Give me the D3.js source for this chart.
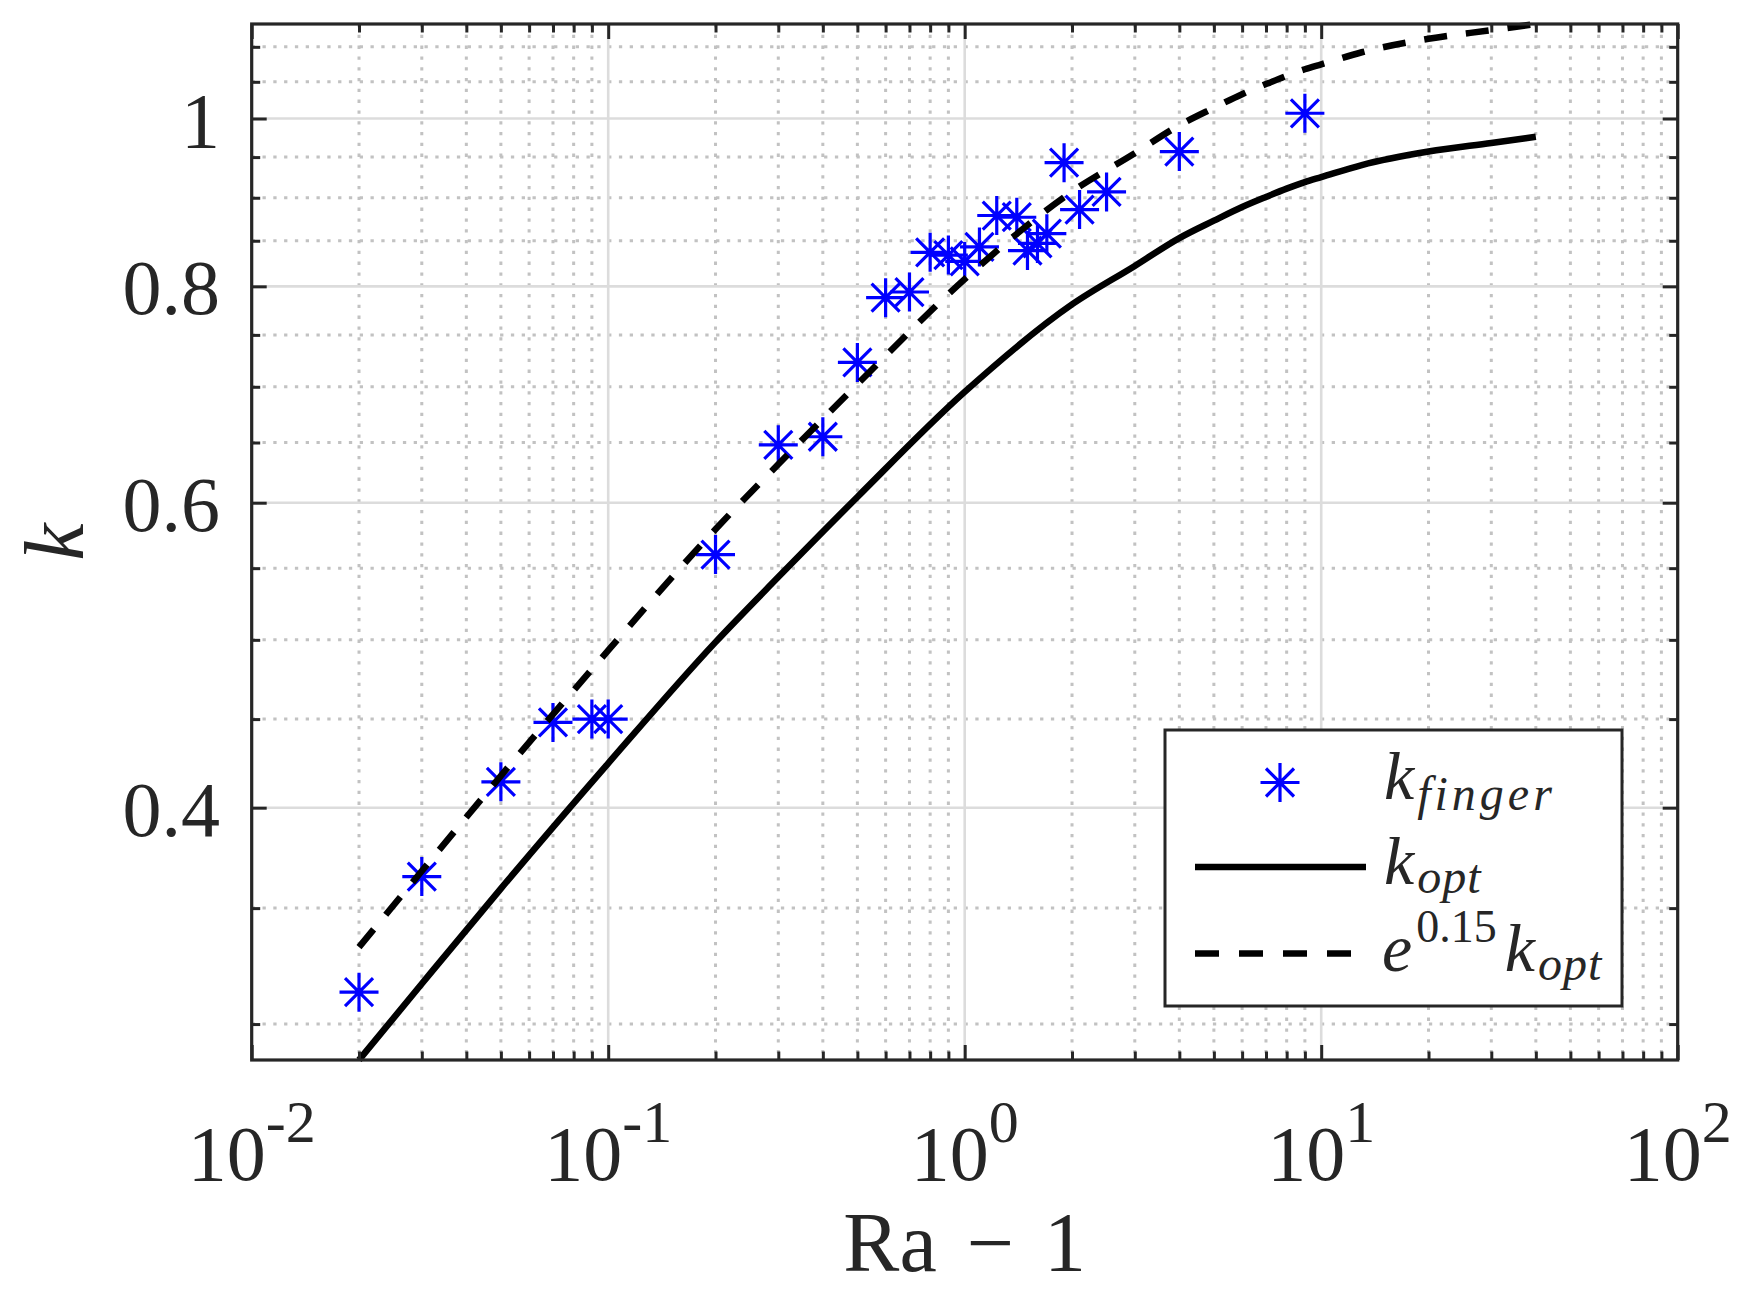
<!DOCTYPE html>
<html>
<head>
<meta charset="utf-8">
<script src="https://cdn.jsdelivr.net/npm/d3@7"></script>
<style>
  body { margin: 0; background: #fff; }
  svg text { font-family: "Liberation Serif", "Tinos", "Times New Roman", "DejaVu Serif", serif; fill: #262626; }
</style>
</head>
<body>
<div id="chart"></div>
<script>
// measured fingers (blue asterisks)
const fingerRa = [0.02, 0.03, 0.05, 0.07, 0.09, 0.1, 0.2, 0.3, 0.4, 0.5, 0.6, 0.7, 0.8, 0.9, 1.0, 1.1,
                  1.23, 1.4, 1.5, 1.6, 1.7, 1.9, 2.1, 2.5, 4, 9];
const fingerK = [0.313, 0.365, 0.414, 0.448, 0.450, 0.450, 0.560, 0.648, 0.655, 0.723, 0.788, 0.794, 0.837, 0.834, 0.827, 0.843,
                 0.879, 0.877, 0.839, 0.847, 0.858, 0.943, 0.886, 0.907, 0.957, 1.007];

// k_opt curve and e^0.15 k_opt curve
const optRa = [0.02, 0.03, 0.05, 0.1, 0.2, 0.3, 0.5, 1, 2, 3, 4, 5, 6, 7, 8, 9, 10, 13, 20, 30, 40];
const optK = [0.286, 0.3165, 0.3592, 0.4243, 0.4985, 0.5435, 0.6046, 0.6952, 0.781, 0.822, 0.853, 0.873, 0.889, 0.901, 0.911, 0.919, 0.925, 0.940, 0.957, 0.968, 0.976];
const scaledK = [0.3323, 0.3677, 0.4173, 0.4930, 0.5792, 0.6315, 0.7024, 0.8077, 0.9074, 0.9550, 0.9910, 1.0143, 1.0329, 1.0468, 1.0584, 1.0677, 1.0747, 1.0921, 1.1119, 1.1247, 1.1339];

// ticks
const xTickVals = [0.01, 0.1, 1, 10, 100];
const xTickExp = ["-2", "-1", "0", "1", "2"];
const yTickVals = [0.4, 0.6, 0.8, 1];
const yTickLabels = ["0.4", "0.6", "0.8", "1"];
const yMinorVals = [0.3, 0.35, 0.45, 0.5, 0.55, 0.65, 0.7, 0.75, 0.85, 0.9, 0.95, 1.05, 1.1];

const width = 1757, height = 1301;
const margin = { top: 24, right: 79.3, bottom: 241, left: 251.7 };
const innerWidth = width - margin.left - margin.right;
const innerHeight = height - margin.top - margin.bottom;
const axisColor = "#262626";
const serif = '"Liberation Serif", "Tinos", "Times New Roman", "DejaVu Serif", serif';

const svg = d3.select("#chart").append("svg")
    .attr("width", width).attr("height", height)
    .attr("font-family", serif);
svg.append("rect").attr("width", width).attr("height", height).attr("fill", "#fff");

const g = svg.append("g").attr("transform", `translate(${margin.left},${margin.top})`);

// scales (axis tight in y like matlab)
const x = d3.scaleLog()
    .domain([xTickVals[0], xTickVals[xTickVals.length - 1]])
    .range([0, innerWidth]);
const y = d3.scaleLog()
    .domain([d3.min(optK), d3.max(scaledK)])
    .range([innerHeight, 0]);

const isDecade = v => Math.abs(Math.log10(v) - Math.round(Math.log10(v))) < 1e-9;
const xMinorVals = x.ticks().filter(v => !isDecade(v));

// --- grid ---
const grid = g.append("g");
grid.selectAll(".xminor").data(xMinorVals).join("line")
    .attr("x1", d => x(d)).attr("x2", d => x(d))
    .attr("y1", 0).attr("y2", innerHeight)
    .attr("stroke", "#c2c2c2").attr("stroke-width", 3).attr("stroke-dasharray", "3.3,7.5");
grid.selectAll(".yminor").data(yMinorVals).join("line")
    .attr("y1", d => y(d)).attr("y2", d => y(d))
    .attr("x1", 0).attr("x2", innerWidth)
    .attr("stroke", "#c2c2c2").attr("stroke-width", 3).attr("stroke-dasharray", "3.3,7.5");
grid.selectAll(".xmajor").data(xTickVals).join("line")
    .attr("x1", d => x(d)).attr("x2", d => x(d))
    .attr("y1", 0).attr("y2", innerHeight)
    .attr("stroke", "#dcdcdc").attr("stroke-width", 2.6);
grid.selectAll(".ymajor").data(yTickVals).join("line")
    .attr("y1", d => y(d)).attr("y2", d => y(d))
    .attr("x1", 0).attr("x2", innerWidth)
    .attr("stroke", "#dcdcdc").attr("stroke-width", 2.6);

// --- data ---
const star = "M-19.5,0H19.5M0,-19.5V19.5M-14,-14L14,14M-14,14L14,-14";
g.append("g").selectAll("path").data(fingerRa).join("path")
    .attr("d", star)
    .attr("transform", (d, i) => `translate(${x(d)},${y(fingerK[i])})`)
    .attr("fill", "none").attr("stroke", "#0000ff").attr("stroke-width", 3.2);

const line = d3.line().curve(d3.curveMonotoneX);
g.append("path")
    .attr("d", line(optRa.map((d, i) => [x(d), y(optK[i])])))
    .attr("fill", "none").attr("stroke", "#000").attr("stroke-width", 6.5)
    .attr("stroke-linejoin", "round");
g.append("path")
    .attr("d", line(optRa.map((d, i) => [x(d), y(scaledK[i])])))
    .attr("fill", "none").attr("stroke", "#000").attr("stroke-width", 6.5)
    .attr("stroke-dasharray", "23,19");

// --- axes: ticks inward on all four sides ---
function styleAxis(sel) {
    sel.select(".domain").remove();
    sel.selectAll(".tick line").attr("stroke", axisColor).attr("stroke-width", 3);
}
const majorLen = 15, minorLen = 8.5;
g.append("g").attr("transform", `translate(0,${innerHeight})`)
    .call(d3.axisBottom(x).tickValues(xTickVals).tickSize(-majorLen).tickFormat("")).call(styleAxis);
g.append("g").attr("transform", `translate(0,${innerHeight})`)
    .call(d3.axisBottom(x).tickValues(xMinorVals).tickSize(-minorLen).tickFormat("")).call(styleAxis);
g.append("g")
    .call(d3.axisTop(x).tickValues(xTickVals).tickSize(-majorLen).tickFormat("")).call(styleAxis);
g.append("g")
    .call(d3.axisTop(x).tickValues(xMinorVals).tickSize(-minorLen).tickFormat("")).call(styleAxis);
g.append("g")
    .call(d3.axisLeft(y).tickValues(yTickVals).tickSize(-majorLen).tickFormat("")).call(styleAxis);
g.append("g")
    .call(d3.axisLeft(y).tickValues(yMinorVals).tickSize(-minorLen).tickFormat("")).call(styleAxis);
g.append("g").attr("transform", `translate(${innerWidth},0)`)
    .call(d3.axisRight(y).tickValues(yTickVals).tickSize(-majorLen).tickFormat("")).call(styleAxis);
g.append("g").attr("transform", `translate(${innerWidth},0)`)
    .call(d3.axisRight(y).tickValues(yMinorVals).tickSize(-minorLen).tickFormat("")).call(styleAxis);

g.append("rect")
    .attr("width", innerWidth).attr("height", innerHeight)
    .attr("fill", "none").attr("stroke", axisColor).attr("stroke-width", 3.2);

// tick labels
const xl = g.append("g").selectAll("text").data(xTickVals).join("text")
    .attr("x", d => x(d)).attr("y", innerHeight + 120)
    .attr("text-anchor", "middle")
    .style("font-family", serif).style("font-size", "78px");
xl.append("tspan").text("10");
xl.append("tspan").attr("dy", -38).style("font-size", "60px").text((d, i) => xTickExp[i]);

g.append("g").selectAll("text").data(yTickVals).join("text")
    .attr("x", -31.7).attr("y", d => y(d) + 28)
    .attr("text-anchor", "end")
    .style("font-family", serif).style("font-size", "78px")
    .text((d, i) => yTickLabels[i]);

// axis labels
const xlab = g.append("text")
    .attr("x", innerWidth / 2).attr("y", innerHeight + 211)
    .attr("text-anchor", "middle")
    .style("font-family", serif).style("font-size", "84px");
xlab.append("tspan").text("Ra");
xlab.append("tspan").attr("dx", 30).text("\u2212");
xlab.append("tspan").attr("dx", 30).text("1");

g.append("text")
    .attr("transform", `translate(${83 - margin.left},${innerHeight / 2}) rotate(-90)`)
    .attr("text-anchor", "middle")
    .style("font-family", serif).style("font-size", "84px").style("font-style", "italic")
    .text("k");

// --- legend ---
const lg = svg.append("g").attr("transform", "translate(1165,730)");
lg.append("rect").attr("width", 457).attr("height", 276)
    .attr("fill", "#fff").attr("stroke", axisColor).attr("stroke-width", 3);

const rowY = [52.5, 137, 223.5];
lg.append("path").attr("d", star).attr("transform", `translate(115,${rowY[0]})`)
    .attr("fill", "none").attr("stroke", "#0000ff").attr("stroke-width", 3.2);
lg.append("line").attr("x1", 30).attr("x2", 201).attr("y1", rowY[1]).attr("y2", rowY[1])
    .attr("stroke", "#000").attr("stroke-width", 6.5);
lg.append("line").attr("x1", 30).attr("x2", 201).attr("y1", rowY[2]).attr("y2", rowY[2])
    .attr("stroke", "#000").attr("stroke-width", 6.5).attr("stroke-dasharray", "24,20");

const t1 = lg.append("text").attr("x", 219).attr("y", rowY[0] + 16)
    .style("font-family", serif).style("font-size", "68px").style("font-style", "italic");
t1.append("tspan").text("k");
t1.append("tspan").attr("dx", 3).attr("dy", 11).style("font-size", "48px")
    .style("letter-spacing", "4px").text("finger");

const t2 = lg.append("text").attr("x", 219).attr("y", rowY[1] + 17)
    .style("font-family", serif).style("font-size", "68px").style("font-style", "italic");
t2.append("tspan").text("k");
t2.append("tspan").attr("dx", 3).attr("dy", 9).style("font-size", "48px")
    .style("letter-spacing", "1px").text("opt");

const t3 = lg.append("text").attr("x", 217).attr("y", rowY[2] + 17)
    .style("font-family", serif).style("font-size", "68px").style("font-style", "italic");
t3.append("tspan").text("e");
t3.append("tspan").attr("dx", 4).attr("dy", -29).style("font-size", "46px")
    .style("font-style", "normal").text("0.15");
t3.append("tspan").attr("dx", 8).attr("dy", 29).text("k");
t3.append("tspan").attr("dx", 3).attr("dy", 9).style("font-size", "48px")
    .style("letter-spacing", "1px").text("opt");
</script>
</body>
</html>
